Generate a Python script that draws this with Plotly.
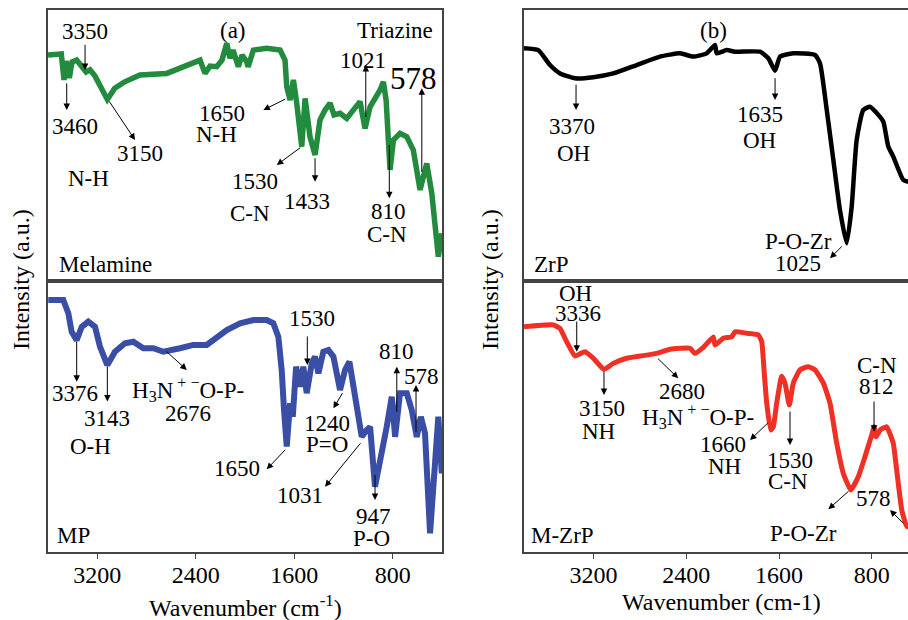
import plotly.graph_objects as go

# ---------------- data (wavenumber cm-1, intensity a.u.) ----------------
mel_wn = [3600, 3492, 3470, 3454, 3427, 3405, 3367, 3324, 3291, 3259, 3218, 3118, 3058, 2977, 2853,
          2636, 2420, 2365, 2325, 2284, 2230, 2187, 2148, 2122, 2097, 2054, 2024, 1986, 1975, 1932,
          1824, 1715, 1675, 1661, 1634, 1607, 1580, 1539, 1512, 1472, 1431, 1391, 1350, 1309, 1277,
          1228, 1174, 1120, 1066, 1025, 984, 903, 876, 854, 822, 795, 741, 686, 633, 578, 524, 483,
          456, 430, 402]
mel_i = [83.4, 83.8, 74.2, 81.2, 74.9, 80.8, 81.5, 79.3, 77.1, 77.9, 75.6, 67.0, 71.1, 73.5, 76.0,
         76.6, 80.3, 81.5, 76.6, 79.3, 79.1, 81.5, 87.7, 82.2, 85.2, 79.1, 83.4, 80.9, 79.0, 85.2,
         85.9, 85.2, 81.5, 71.7, 66.8, 74.2, 65.6, 49.6, 67.4, 53.2, 46.5, 59.4, 63.1, 65.6, 61.3,
         61.9, 60.0, 63.1, 66.2, 56.3, 64.3, 70.5, 73.5, 66.8, 41.0, 52.0, 54.5, 53.2, 48.3, 33.6,
         43.4, 32.4, 17.6, 9.0, 17.6]

mp_wn = [3598, 3476, 3435, 3408, 3367, 3326, 3273, 3218, 3178, 3118, 3056, 2975, 2907, 2826, 2745,
         2663, 2528, 2420, 2311, 2230, 2148, 2040, 1932, 1824, 1770, 1729, 1702, 1683, 1661, 1634,
         1612, 1585, 1553, 1526, 1499, 1458, 1431, 1404, 1364, 1323, 1282, 1228, 1187, 1152, 1125,
         1087, 1052, 1011, 984, 944, 903, 849, 808, 781, 741, 686, 646, 605, 572, 538, 497, 456,
         430, 402]
mp_i = [93.0, 93.0, 88.1, 81.3, 78.2, 83.1, 85.0, 83.1, 75.8, 69.0, 73.9, 77.0, 77.6, 75.2, 75.2,
        73.9, 75.2, 76.4, 76.4, 78.9, 81.9, 84.4, 85.6, 85.6, 84.4, 79.4, 67.2, 52.4, 38.9, 54.9,
        49.9, 68.4, 61.0, 68.4, 58.6, 69.6, 72.1, 65.9, 73.9, 74.5, 72.1, 59.8, 67.2, 70.2, 63.5,
        51.2, 42.5, 45.0, 46.2, 24.1, 32.7, 46.2, 57.3, 42.5, 58.6, 58.6, 52.4, 42.5, 49.9, 43.8,
        6.9, 35.2, 49.9, 29.0]

zrp_wn = [3800, 3677, 3576, 3489, 3360, 3202, 3030, 2828, 2627, 2454, 2339, 2224, 2152, 2137, 2051,
          1979, 1764, 1692, 1634, 1591, 1477, 1289, 1246, 1188, 1131, 1074, 1016, 973, 930, 873,
          815, 743, 700, 657, 614, 528, 484]
zrp_i = [85.9, 85.2, 79.7, 76.6, 74.8, 75.2, 76.6, 79.7, 82.8, 84.0, 82.8, 84.0, 87.1, 84.0, 85.2,
         84.6, 84.6, 82.2, 77.6, 82.8, 84.0, 83.4, 80.3, 63.1, 44.6, 26.2, 13.9, 27.4, 52.0, 63.1,
         64.3, 61.3, 58.8, 49.6, 45.9, 37.3, 36.6]

mzrp_wn = [3800, 3547, 3489, 3432, 3360, 3274, 3202, 3110, 3030, 2914, 2799, 2655, 2540, 2368, 2325,
           2253, 2167, 2152, 2080, 2008, 1979, 1879, 1778, 1749, 1729, 1706, 1671, 1649, 1620, 1577,
           1548, 1511, 1477, 1419, 1347, 1289, 1217, 1160, 1102, 1045, 981, 916, 858, 800, 780, 763,
           728, 671, 614, 585, 541, 498, 484]
mzrp_i = [83.1, 83.8, 82.5, 77.6, 72.3, 73.9, 71.5, 67.4, 69.6, 71.5, 72.3, 73.3, 74.8, 75.2, 73.3,
          75.5, 79.4, 76.4, 78.9, 79.4, 81.3, 80.7, 80.1, 77.6, 67.2, 54.9, 45.0, 46.2, 54.9, 64.9,
          62.3, 54.2, 62.3, 67.2, 68.4, 67.2, 62.3, 54.9, 40.1, 29.0, 22.9, 27.8, 35.2, 43.2, 46.2,
          42.5, 45.0, 46.2, 40.1, 30.3, 15.5, 9.3, 10.6]

tick_vals = [3200, 2400, 1600, 800]
tick_text = ["3200", "2400", "1600", "800"]

# labels: (text, wavenumber, intensity)
mel_labels = [("3350", 3299, 92.0), ("3460", 3381, 56.9), ("3150", 2853, 47.1), ("N-H", 3273, 37.9),
              ("(a)", 2095, 92.6), ("1021", 1039, 81.5), ("1650", 2189, 61.9), ("N-H", 2230, 53.9),
              ("1530", 1919, 36.6), ("C-N", 1959, 25.0), ("1433", 1499, 29.3), ("810", 836, 25.6),
              ("C-N", 849, 17.0)]
# arrows: (head wn, head I, tail wn, tail I)
mel_arrows = [(3299, 77.9, 3299, 87.7), (3448, 63.1, 3448, 73.5), (2893, 52.0, 3110, 66.8),
              (1851, 63.1, 1661, 67.4), (1742, 42.8, 1539, 49.6), (1431, 36.6, 1431, 45.9),
              (1019, 79.7, 1019, 60.0), (828, 30.5, 828, 50.8), (564, 71.1, 564, 39.7)]

mp_labels = [("3376", 3381, 58.6), ("3143", 3123, 49.3), ("O-H", 3253, 38.9),
             ("H<sub>3</sub>N<sup> + −</sup>O-P-", 2460, 59.8), ("2676", 2460, 51.2),
             ("1650", 2067, 30.9), ("1530", 1458, 86.2), ("1240", 1336, 47.5), ("P=O", 1336, 39.5),
             ("1031", 1553, 21.0), ("947", 958, 13.0), ("P-O", 971, 5.1), ("810", 767, 73.9),
             ("578", 564, 64.9)]
mp_arrows = [(3367, 62.8, 3367, 78.2), (3118, 55.5, 3118, 69.0), (2473, 67.2, 2650, 74.5),
             (1494, 69.0, 1494, 80.1), (1824, 30.5, 1661, 38.3), (1282, 53.0, 1201, 59.2),
             (1350, 24.1, 1052, 40.7), (944, 19.2, 944, 29.0), (767, 68.4, 767, 51.2),
             (611, 61.6, 611, 43.8)]

zrp_labels = [("(b)", 2167, 92.6), ("3370", 3388, 56.9), ("OH", 3375, 47.1), ("1635", 1764, 61.3),
              ("OH", 1764, 52.0), ("P-O-Zr", 1433, 14.5), ("1025", 1433, 6.5)]
zrp_arrows = [(3351, 63.1, 3351, 73.0), (1634, 66.8, 1634, 75.4), (1160, 8.4, 1045, 13.3)]

mzrp_labels = [("OH", 3360, 95.5), ("3336", 3331, 88.1), ("3150", 3130, 53.0), ("NH", 3159, 44.4),
               ("2680", 2439, 59.2), ("H<sub>3</sub>N<sup> + −</sup>O-P-", 2296, 49.9),
               ("1660", 2080, 39.5), ("NH", 2066, 31.5), ("1530", 1505, 33.9), ("C-N", 1520, 25.9),
               ("C-N", 757, 69.0), ("812", 757, 61.0), ("578", 786, 19.8), ("P-O-Zr", 1390, 6.9)]
mzrp_arrows = [(3345, 73.9, 3345, 85.6), (3110, 57.9, 3110, 67.2), (2469, 64.1, 2655, 71.8),
               (1850, 41.3, 1684, 48.1), (1505, 39.5, 1505, 52.4), (780, 44.4, 780, 56.1),
               (1174, 15.8, 987, 22.9), (642, 15.5, 513, 10.0)]

# ---------------- figure ----------------
FONT = "Liberation Serif, Times New Roman, serif"
FS = 23
frame = "#444444"

fig = go.Figure()
fig.add_trace(go.Scatter(x=mel_wn, y=mel_i, xaxis="x", yaxis="y", mode="lines",
                         line=dict(color="#238b3d", width=5.5), showlegend=False))
fig.add_trace(go.Scatter(x=mp_wn, y=mp_i, xaxis="x2", yaxis="y2", mode="lines",
                         line=dict(color="#3a4ea6", width=6), showlegend=False))
fig.add_trace(go.Scatter(x=zrp_wn, y=zrp_i, xaxis="x3", yaxis="y3", mode="lines",
                         line=dict(color="#000000", width=4.5, shape="spline", smoothing=0.5),
                         showlegend=False))
fig.add_trace(go.Scatter(x=mzrp_wn, y=mzrp_i, xaxis="x4", yaxis="y4", mode="lines",
                         line=dict(color="#ee3124", width=5, shape="spline", smoothing=0.4),
                         showlegend=False))

left_dom = [48 / 908, 442 / 908]
right_dom = [524 / 908, 1.0]
up_dom = [1 - 281 / 620, 1 - 10 / 620]
lo_dom = [1 - 552 / 620, 1 - 281 / 620]

def xax(dom, rng, anchor, labels):
    d = dict(domain=dom, range=rng, anchor=anchor, showline=True, mirror=True,
             linecolor=frame, linewidth=1.5, showgrid=False, zeroline=False,
             tickvals=tick_vals, ticktext=tick_text, tickfont=dict(family=FONT, size=24, color="black"))
    if labels:
        d.update(ticks="outside", ticklen=5, tickcolor=frame, tickwidth=1.2, showticklabels=True,
                 ticklabelstandoff=-5)
    else:
        d.update(ticks="", showticklabels=False)
    return d

def yax(dom, anchor, mirror):
    return dict(domain=dom, range=[0, 100], anchor=anchor, showline=True, mirror=mirror,
                linecolor=frame, linewidth=1.5, showgrid=False, zeroline=False,
                showticklabels=False, ticks="")

fig.update_layout(
    width=908, height=620, margin=dict(l=0, r=0, t=0, b=0),
    paper_bgcolor="white", plot_bgcolor="white",
    font=dict(family=FONT, size=FS, color="black"),
    xaxis=xax(left_dom, [3600, 400], "y", False),
    yaxis=yax(up_dom, "x", True),
    xaxis2=xax(left_dom, [3600, 400], "y2", True),
    yaxis2=yax(lo_dom, "x2", True),
    xaxis3=xax(right_dom, [3800, 487], "y3", False),
    yaxis3=yax(up_dom, "x3", False),
    xaxis4=xax(right_dom, [3800, 487], "y4", True),
    yaxis4=yax(lo_dom, "x4", False),
)

anns = []
def txt(t, x, y, xr, yr, size=FS, xanchor="center", angle=0):
    return dict(text=t, x=x, y=y, xref=xr, yref=yr, showarrow=False, textangle=angle,
                font=dict(family=FONT, size=size, color="black"),
                xanchor=xanchor, yanchor="middle")

def add_panel(labels, arrows, xr, yr):
    for t, wn, iv in labels:
        anns.append(txt(t, wn, iv, xr, yr))
    for hx, hy, tx, ty in arrows:
        anns.append(dict(text="", x=hx, y=hy, ax=tx, ay=ty, xref=xr, yref=yr, axref=xr, ayref=yr,
                         showarrow=True, arrowhead=2, arrowsize=1.3, arrowwidth=1,
                         arrowcolor="black", standoff=0, startstandoff=0))

add_panel(mel_labels, mel_arrows, "x", "y")
add_panel(mp_labels, mp_arrows, "x2", "y2")
add_panel(zrp_labels, zrp_arrows, "x3", "y3")
add_panel(mzrp_labels, mzrp_arrows, "x4", "y4")

# special labels
anns.append(txt("578", 633, 74.8, "x", "y", size=31))
anns.append(txt("Triazine", 456, 92.6, "x", "y", xanchor="right"))
for t, xr, yr, wn in [("Melamine", "x", "y", 3530), ("MP", "x2", "y2", 3543),
                      ("ZrP", "x3", "y3", 3734), ("M-ZrP", "x4", "y4", 3757)]:
    anns.append(txt(t, wn, 6.0, xr, yr, xanchor="left"))

# axis titles
anns.append(txt("Wavenumber (cm<sup>-1</sup>)", 245.8 / 908, 1 - 606 / 620, "paper", "paper", size=24))
anns.append(txt("Wavenumber (cm-1)", 721.7 / 908, 1 - 602 / 620, "paper", "paper", size=24))
for xp in (21 / 908, 490 / 908):
    anns.append(txt("Intensity (a.u.)", xp, 1 - 280 / 620, "paper", "paper", size=24, angle=-90))

fig.update_layout(annotations=anns)
fig.write_html("out.html", config={"displayModeBar": False},
               post_script="document.body.style.margin='0';document.body.style.padding='0';"
                           "document.body.style.overflow='hidden';")
